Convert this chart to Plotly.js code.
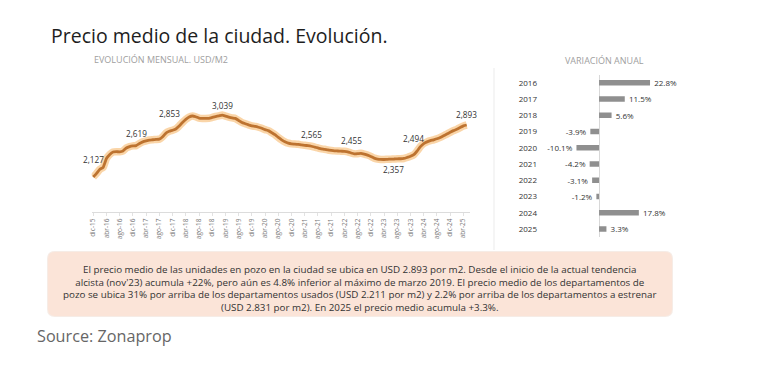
<!DOCTYPE html>
<html>
<head>
<meta charset="utf-8">
<script src="https://cdn.plot.ly/plotly-3.0.1.min.js"></script>
<style>
  html, body { margin: 0; padding: 0; background: #ffffff; }
  #chart { width: 764px; height: 374px; }
</style>
</head>
<body>
<div id="chart"></div>
<script>
// ---------- DATA ----------
const months = [
  'dic-15',
  'ene-16','feb-16','mar-16','abr-16','may-16','jun-16','jul-16','ago-16','sep-16','oct-16','nov-16','dic-16',
  'ene-17','feb-17','mar-17','abr-17','may-17','jun-17','jul-17','ago-17','sep-17','oct-17','nov-17','dic-17',
  'ene-18','feb-18','mar-18','abr-18','may-18','jun-18','jul-18','ago-18','sep-18','oct-18','nov-18','dic-18',
  'ene-19','feb-19','mar-19','abr-19','may-19','jun-19','jul-19','ago-19','sep-19','oct-19','nov-19','dic-19',
  'ene-20','feb-20','mar-20','abr-20','may-20','jun-20','jul-20','ago-20','sep-20','oct-20','nov-20','dic-20',
  'ene-21','feb-21','mar-21','abr-21','may-21','jun-21','jul-21','ago-21','sep-21','oct-21','nov-21','dic-21',
  'ene-22','feb-22','mar-22','abr-22','may-22','jun-22','jul-22','ago-22','sep-22','oct-22','nov-22','dic-22',
  'ene-23','feb-23','mar-23','abr-23','may-23','jun-23','jul-23','ago-23','sep-23','oct-23','nov-23','dic-23',
  'ene-24','feb-24','mar-24','abr-24','may-24','jun-24','jul-24','ago-24','sep-24','oct-24','nov-24','dic-24',
  'ene-25','feb-25','mar-25','abr-25','may-25'
];
const price = [
  2127,2180,2240,2270,2400,2460,2495,2500,2498,2510,2555,2575,2585,
  2590,2620,2645,2660,2672,2676,2680,2685,2720,2775,2800,2815,
  2835,2880,2930,2975,3010,3026,3015,2995,2990,2990,2992,3005,
  3018,3028,3039,3025,3010,2998,2990,2960,2930,2912,2895,2880,
  2872,2860,2845,2825,2810,2780,2750,2710,2675,2645,2625,2615,
  2612,2608,2600,2594,2588,2580,2568,2555,2542,2535,2525,2518,
  2512,2510,2507,2505,2498,2480,2468,2470,2476,2465,2450,2430,
  2405,2392,2386,2385,2388,2390,2392,2395,2396,2400,2415,2432,
  2455,2510,2575,2620,2645,2662,2675,2690,2710,2735,2760,2785,
  2810,2830,2855,2880,2893
];
const tickLabels = [
  'dic-15','abr-16','ago-16','dic-16','abr-17','ago-17','dic-17','abr-18','ago-18','dic-18',
  'abr-19','ago-19','dic-19','abr-20','ago-20','dic-20','abr-21','ago-21','dic-21','abr-22',
  'ago-22','dic-22','abr-23','ago-23','dic-23','abr-24','ago-24','dic-24','abr-25'
];
const labelMonths = ['dic-15','ene-17','nov-17','mar-19','jun-21','jun-22','jul-23','ene-24','may-25'];
const labelValues = [2127, 2619, 2853, 3039, 2565, 2455, 2357, 2494, 2893];

const years = ['2016','2017','2018','2019','2020','2021','2022','2023','2024','2025'];
const variation = [22.8, 11.5, 5.6, -3.9, -10.1, -4.2, -3.1, -1.2, 17.8, 3.3];

const titleText = 'Precio medio de la ciudad. Evolución.';
const lineSubtitle = 'EVOLUCIÓN MENSUAL. USD/M2';
const barSubtitle = 'VARIACIÓN ANUAL';
const noteText = 'El precio medio de las unidades en pozo en la ciudad se ubica en USD 2.893 por m2. Desde el inicio de la actual tendencia<br>' +
  'alcista (nov\'23) acumula +22%, pero aún es 4.8% inferior al máximo de marzo 2019. El precio medio de los departamentos de<br>' +
  'pozo se ubica 31% por arriba de los departamentos usados (USD 2.211 por m2) y 2.2% por arriba de los departamentos a estrenar<br>' +
  '(USD 2.831 por m2). En 2025 el precio medio acumula +3.3%.';
const sourceText = 'Source: Zonaprop';

// ---------- STYLE / LAYOUT ----------
const W = 764, H = 374;
const px = x => x / W;
const py = y => 1 - y / H;
const labelShift = [17, 10, 14, 10, 13, 14, -8, 14, 11];
const FONT = 'Open Sans, sans-serif';
const NB = '\u00a0\u00a0';

const fmt = v => v.toLocaleString('en-US');
const pct = v => v >= 0 ? NB + v.toFixed(1) + '%' : v.toFixed(1) + '%' + NB;

const traces = [
  { // glow
    x: months, y: price, type: 'scatter', mode: 'lines',
    line: { color: 'rgba(246,178,96,0.55)', width: 7.5, shape: 'spline', smoothing: 0.4 },
    hoverinfo: 'skip', xaxis: 'x', yaxis: 'y'
  },
  { // core
    x: months, y: price, type: 'scatter', mode: 'lines',
    line: { color: '#bd7330', width: 2.8, shape: 'spline', smoothing: 0.4 },
    xaxis: 'x', yaxis: 'y'
  },
  {
    x: variation, y: years, type: 'bar', orientation: 'h',
    marker: { color: '#8f8f8f' },
    text: variation.map(pct), textposition: 'outside', cliponaxis: false,
    constraintext: 'none', textangle: 0,
    textfont: { family: FONT, size: 8, color: '#333' },
    xaxis: 'x2', yaxis: 'y2'
  }
];

const annotations = [];
labelMonths.forEach((m, i) => {
  annotations.push({
    x: m, y: labelValues[i], xref: 'x', yref: 'y',
    text: fmt(labelValues[i]), showarrow: false, yshift: labelShift[i],
    font: { family: FONT, size: 8.2, color: '#333' }
  });
});
annotations.push(
  { x: px(49), y: py(36), xref: 'paper', yref: 'paper', xanchor: 'left', yanchor: 'middle',
    text: titleText, showarrow: false, font: { family: FONT, size: 19.5, color: '#1e1e1e' } },
  { x: px(92), y: py(60), xref: 'paper', yref: 'paper', xanchor: 'left', yanchor: 'middle',
    text: lineSubtitle, showarrow: false, font: { family: FONT, size: 9, color: '#a0a0a0' } },
  { x: px(604), y: py(61), xref: 'paper', yref: 'paper', xanchor: 'center', yanchor: 'middle',
    text: barSubtitle, showarrow: false, font: { family: FONT, size: 9, color: '#a0a0a0' } },
  { x: px(360), y: py(288), xref: 'paper', yref: 'paper', xanchor: 'center', yanchor: 'middle',
    text: noteText, showarrow: false, align: 'center',
    font: { family: FONT, size: 9.8, color: '#333' } },
  { x: px(35), y: py(336), xref: 'paper', yref: 'paper', xanchor: 'left', yanchor: 'middle',
    text: sourceText, showarrow: false, font: { family: FONT, size: 16.2, color: '#666' } }
);

function roundRect(x0, y0, x1, y1, r) {
  const rx = r / W, ry = r / H;
  const X0 = px(x0), X1 = px(x1), Y0 = py(y0), Y1 = py(y1);
  return `M ${X0 + rx},${Y0} L ${X1 - rx},${Y0} Q ${X1},${Y0} ${X1},${Y0 - ry} ` +
         `L ${X1},${Y1 + ry} Q ${X1},${Y1} ${X1 - rx},${Y1} L ${X0 + rx},${Y1} ` +
         `Q ${X0},${Y1} ${X0},${Y1 + ry} L ${X0},${Y0 - ry} Q ${X0},${Y0} ${X0 + rx},${Y0} Z`;
}

const shapes = [
  { type: 'path', xref: 'paper', yref: 'paper', path: roundRect(47, 251, 673, 317, 8),
    fillcolor: '#f6ece6', line: { width: 0 }, layer: 'below' },
  { type: 'path', xref: 'paper', yref: 'paper', path: roundRect(48, 252, 672, 316, 7),
    fillcolor: '#fbe4d8', line: { width: 0 }, layer: 'below' },
  { type: 'line', xref: 'paper', yref: 'paper', x0: px(494), x1: px(494), y0: py(68), y1: py(250),
    line: { color: '#f5f5f5', width: 2 }, layer: 'below' }
];

const layout = {
  width: W, height: H,
  margin: { l: 0, r: 0, t: 0, b: 0 },
  paper_bgcolor: '#ffffff', plot_bgcolor: 'rgba(0,0,0,0)',
  showlegend: false,
  font: { family: FONT },
  xaxis: {
    domain: [px(91.6), px(470)], type: 'category', range: [-0.5, 114],
    tickvals: tickLabels, ticktext: tickLabels, tickangle: -90,
    tickfont: { family: FONT, size: 6.5, color: '#777' },
    showline: true, linecolor: '#dcdcdc', linewidth: 1,
    ticks: 'outside', ticklen: 3, tickcolor: '#e2e2e2',
    showgrid: false, zeroline: false, fixedrange: true, anchor: 'y'
  },
  yaxis: {
    domain: [py(212), py(90)], range: [1611, 3409],
    visible: false, showgrid: false, zeroline: false, fixedrange: true
  },
  xaxis2: {
    domain: [px(538), px(680)], range: [-27.3, 36.2],
    visible: true, showticklabels: false, showgrid: false, showline: false,
    zeroline: true, zerolinecolor: '#d8d8d8', zerolinewidth: 1,
    anchor: 'y2', fixedrange: true
  },
  yaxis2: {
    domain: [py(237.1), py(74.6)], type: 'category', range: [9.5, -0.5],
    tickfont: { family: FONT, size: 8, color: '#333' },
    showgrid: false, showline: false, zeroline: false, ticks: '',
    anchor: 'x2', fixedrange: true
  },
  bargap: 0.65,
  annotations: annotations,
  shapes: shapes
};

Plotly.newPlot('chart', traces, layout, { displayModeBar: false, staticPlot: true });
</script>
</body>
</html>
